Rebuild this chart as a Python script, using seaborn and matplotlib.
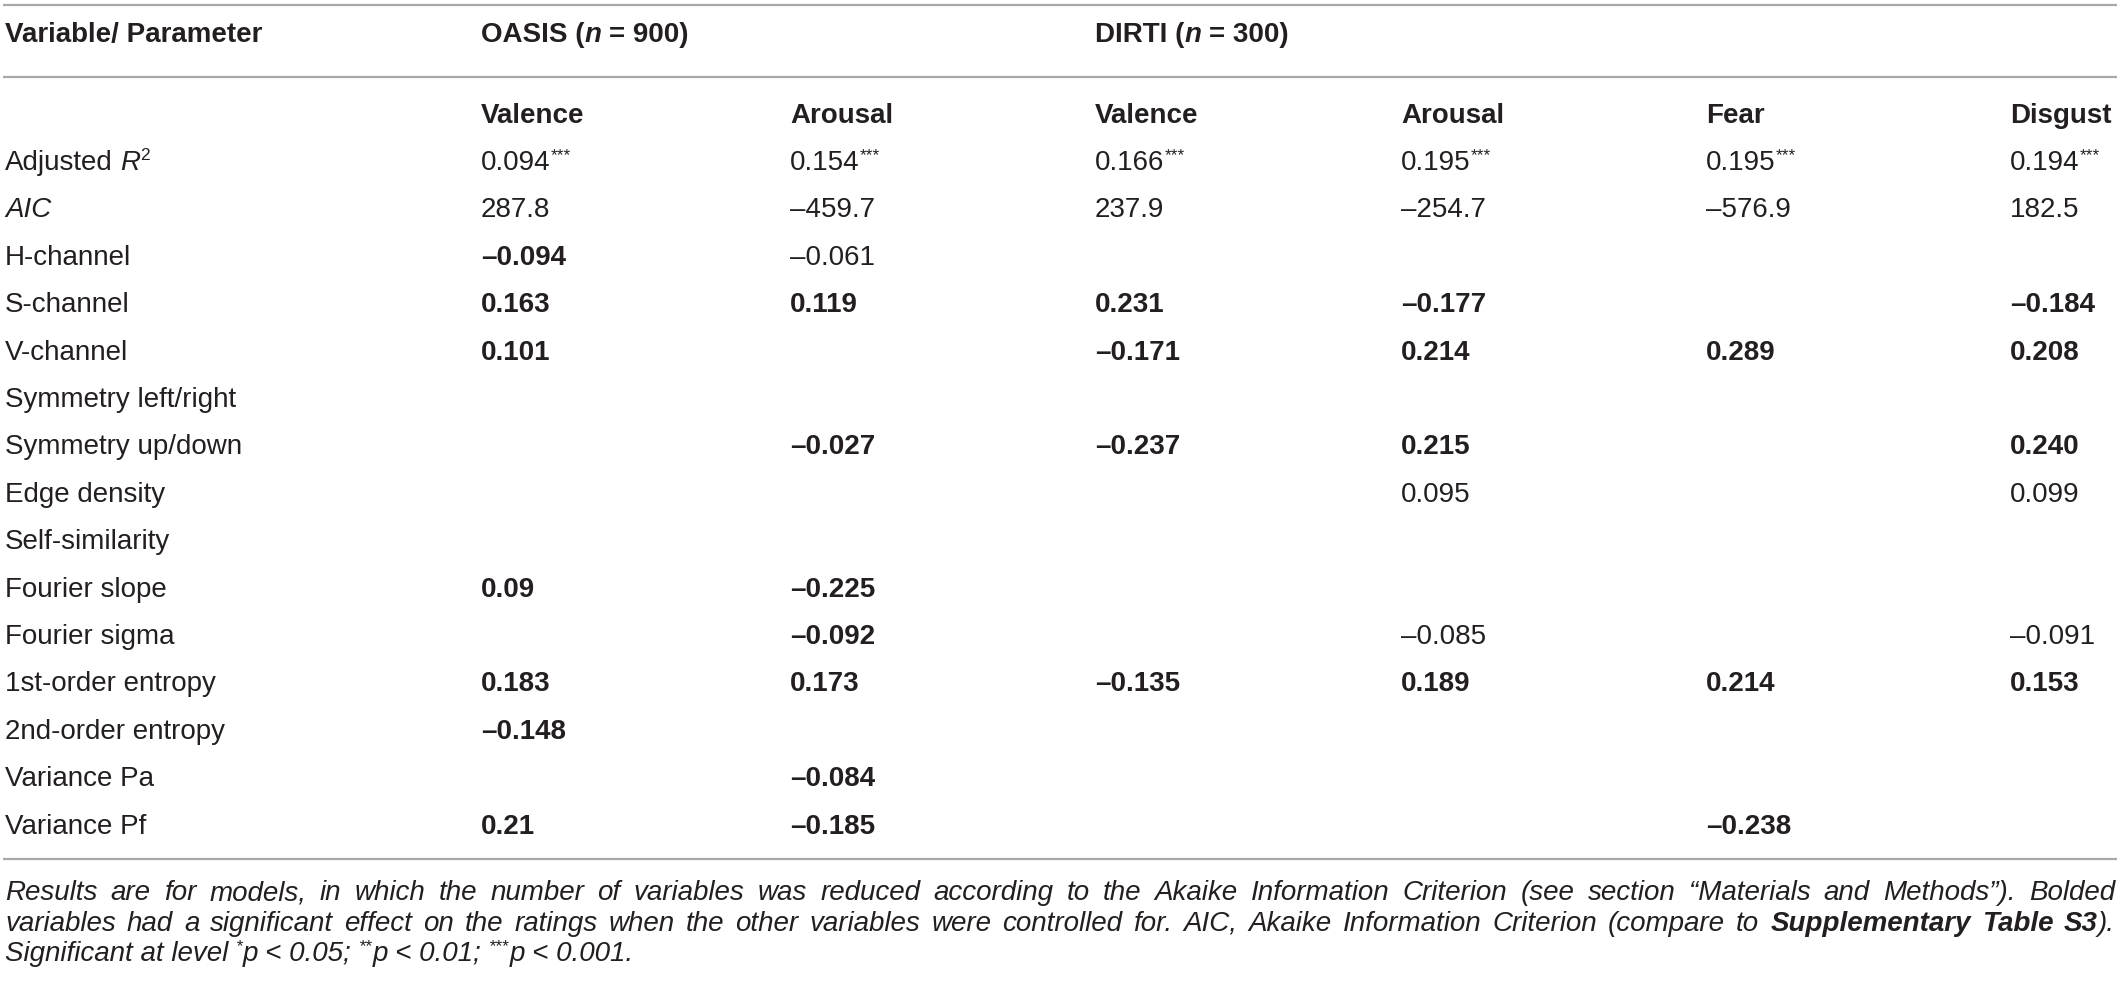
import matplotlib
matplotlib.use("Agg")
import matplotlib.pyplot as plt
import seaborn as sns

# Table content
row_labels = ["Adjusted R2", "AIC", "H-channel", "S-channel", "V-channel",
              "Symmetry left/right", "Symmetry up/down", "Edge density",
              "Self-similarity", "Fourier slope", "Fourier sigma",
              "1st-order entropy", "2nd-order entropy", "Variance Pa", "Variance Pf"]
group_names = ["OASIS", "DIRTI"]
group_n = ["900", "300"]
group_first_col = [0, 2]
col_names = ["Valence", "Arousal", "Valence", "Arousal", "Fear", "Disgust"]

r2_values = ["0.094", "0.154", "0.166", "0.195", "0.195", "0.194"]
r2_stars = ["***", "***", "***", "***", "***", "***"]
aic_values = ["287.8", "–459.7", "237.9", "–254.7", "–576.9", "182.5"]

# coefficients for rows H-channel .. Variance Pf, "" = not in model
oasis_valence = ["–0.094", "0.163", "0.101", "", "", "", "", "0.09", "", "0.183", "–0.148", "", "0.21"]
oasis_arousal = ["–0.061", "0.119", "", "", "–0.027", "", "", "–0.225", "–0.092", "0.173", "", "–0.084", "–0.185"]
dirti_valence = ["", "0.231", "–0.171", "", "–0.237", "", "", "", "", "–0.135", "", "", ""]
dirti_arousal = ["", "–0.177", "0.214", "", "0.215", "0.095", "", "", "–0.085", "0.189", "", "", ""]
dirti_fear = ["", "", "0.289", "", "", "", "", "", "", "0.214", "", "", "–0.238"]
dirti_disgust = ["", "–0.184", "0.208", "", "0.240", "0.099", "", "", "–0.091", "0.153", "", "", ""]

# significant (bolded) coefficients
oasis_valence_sig = [1, 1, 1, 0, 0, 0, 0, 1, 0, 1, 1, 0, 1]
oasis_arousal_sig = [0, 1, 0, 0, 1, 0, 0, 1, 1, 1, 0, 1, 1]
dirti_valence_sig = [0, 1, 1, 0, 1, 0, 0, 0, 0, 1, 0, 0, 0]
dirti_arousal_sig = [0, 1, 1, 0, 1, 0, 0, 0, 0, 1, 0, 0, 0]
dirti_fear_sig = [0, 0, 1, 0, 0, 0, 0, 0, 0, 1, 0, 0, 1]
dirti_disgust_sig = [0, 1, 1, 0, 1, 0, 0, 0, 0, 1, 0, 0, 0]

coef_cols = [oasis_valence, oasis_arousal, dirti_valence, dirti_arousal, dirti_fear, dirti_disgust]
sig_cols = [oasis_valence_sig, oasis_arousal_sig, dirti_valence_sig,
            dirti_arousal_sig, dirti_fear_sig, dirti_disgust_sig]

note_line1 = ("Results are for models, in which the number of variables was reduced according "
              "to the Akaike Information Criterion (see section “Materials and Methods”). Bolded")
note_line2 = ("variables had a significant effect on the ratings when the other variables were "
              "controlled for. AIC, Akaike Information Criterion (compare to")
note_ref = "Supplementary Table S3"

# Style
sns.set_theme(style="white")
plt.rcParams["font.family"] = ["Liberation Sans", "DejaVu Sans"]
TXT = "#231f20"
RULE = "#a7a9ac"
FS = 20

W, H = 2120, 981
fig = plt.figure(figsize=(W / 100, H / 100), dpi=100)
ax = fig.add_axes([0, 0, 1, 1])
ax.set_xlim(0, W)
ax.set_ylim(H, 0)
ax.axis("off")
renderer = fig.canvas.get_renderer()

STY = {
    "r": dict(fontweight="normal", fontstyle="normal"),
    "b": dict(fontweight="bold", fontstyle="normal"),
    "i": dict(fontweight="normal", fontstyle="italic"),
    "bi": dict(fontweight="bold", fontstyle="italic"),
}


def width_of(s, style, size):
    t = ax.text(0, 0, s, fontsize=size, **STY[style])
    w = t.get_window_extent(renderer=renderer).width
    t.remove()
    return w


def space_of(style, size):
    return width_of("a a", style, size) - width_of("aa", style, size)


def run_width(runs, size):
    total = 0
    for run in runs:
        s, style = run[0], run[1]
        sup = len(run) > 2 and run[2]
        sz = size * 0.62 if sup else size
        sp = space_of(style, sz)
        lead = len(s) - len(s.lstrip(" "))
        trail = len(s) - len(s.rstrip(" "))
        core = s.strip(" ")
        total += (lead + trail) * sp
        if core:
            total += width_of(core, style, sz)
    return total


def draw_runs(x, y, runs, size=FS):
    cx = x
    for run in runs:
        s, style = run[0], run[1]
        sup = len(run) > 2 and run[2]
        sz = size * 0.62 if sup else size
        dy = size * 100 / 72 * 0.36 if sup else 0
        sp = space_of(style, sz)
        lead = len(s) - len(s.lstrip(" "))
        trail = len(s) - len(s.rstrip(" "))
        core = s.strip(" ")
        cx += lead * sp
        if core:
            t = ax.text(cx, y - dy, core, fontsize=sz, color=TXT, va="baseline", ha="left", **STY[style])
            cx += t.get_window_extent(renderer=renderer).width
        cx += trail * sp
    return cx


def draw_justified(x0, x1, y, words, size):
    widths = [run_width(w, size) for w in words]
    gap = (x1 - x0 - sum(widths)) / (len(words) - 1)
    cx = x0
    for w, wd in zip(words, widths):
        draw_runs(cx, y, w, size)
        cx += wd + gap


# Layout
label_x = 5
col_x = [481, 790, 1095, 1401, 1706, 2010]
base = 10  # baseline offset below the row centre
header_y, sub_y = 32, 113
row0, row_h = 160, 47.4
rule_y = [5, 77, 859]

for ry in rule_y:
    ax.hlines(ry, 3, W - 3, color=RULE, lw=1.6)

# header
draw_runs(label_x, header_y + base, [("Variable/ Parameter", "b")])
for g, n, c in zip(group_names, group_n, group_first_col):
    draw_runs(col_x[c], header_y + base, [(g + " (", "b"), ("n", "bi"), (" = " + n + ")", "b")])
for name, x in zip(col_names, col_x):
    draw_runs(x, sub_y + base, [(name, "b")])

# row labels
for i, lab in enumerate(row_labels):
    y = row0 + i * row_h + base
    if i == 0:
        draw_runs(label_x, y, [("Adjusted ", "r"), ("R", "i"), (lab[-1], "r", True)])
    elif lab == "AIC":
        draw_runs(label_x, y, [(lab, "i")])
    else:
        draw_runs(label_x, y, [(lab, "r")])

# values
for j, x in enumerate(col_x):
    draw_runs(x, row0 + base, [(r2_values[j], "r"), (r2_stars[j], "r", True)])
    draw_runs(x, row0 + row_h + base, [(aic_values[j], "r")])
    for k, (v, sig) in enumerate(zip(coef_cols[j], sig_cols[j])):
        if v:
            draw_runs(x, row0 + (k + 2) * row_h + base, [(v, "b" if sig else "r")])

# footnote
fs_note = FS
words1 = [[(w, "i")] for w in note_line1.split()]
words2 = [[(w, "i")] for w in note_line2.split()]
ref_words = note_ref.split()
words2 += [[(w, "bi")] for w in ref_words[:-1]] + [[(ref_words[-1], "bi"), (").", "i")]]
avail = W - 5 - label_x
while True:
    need = max(sum(run_width(w, fs_note) for w in ws) + (len(ws) - 1) * 0.5 * space_of("i", fs_note)
               for ws in (words1, words2))
    if need <= avail:
        break
    fs_note -= 0.25

note_y = [890, 921, 951]
draw_justified(label_x, W - 5, note_y[0] + base, words1, fs_note)
draw_justified(label_x, W - 5, note_y[1] + base, words2, fs_note)
draw_runs(label_x, note_y[2] + base,
          [("Significant at level ", "i"), ("*", "i", True), ("p < 0.05; ", "i"),
           ("**", "i", True), ("p < 0.01; ", "i"), ("***", "i", True), ("p < 0.001.", "i")],
          fs_note)

fig.savefig("out.png", dpi=100)
